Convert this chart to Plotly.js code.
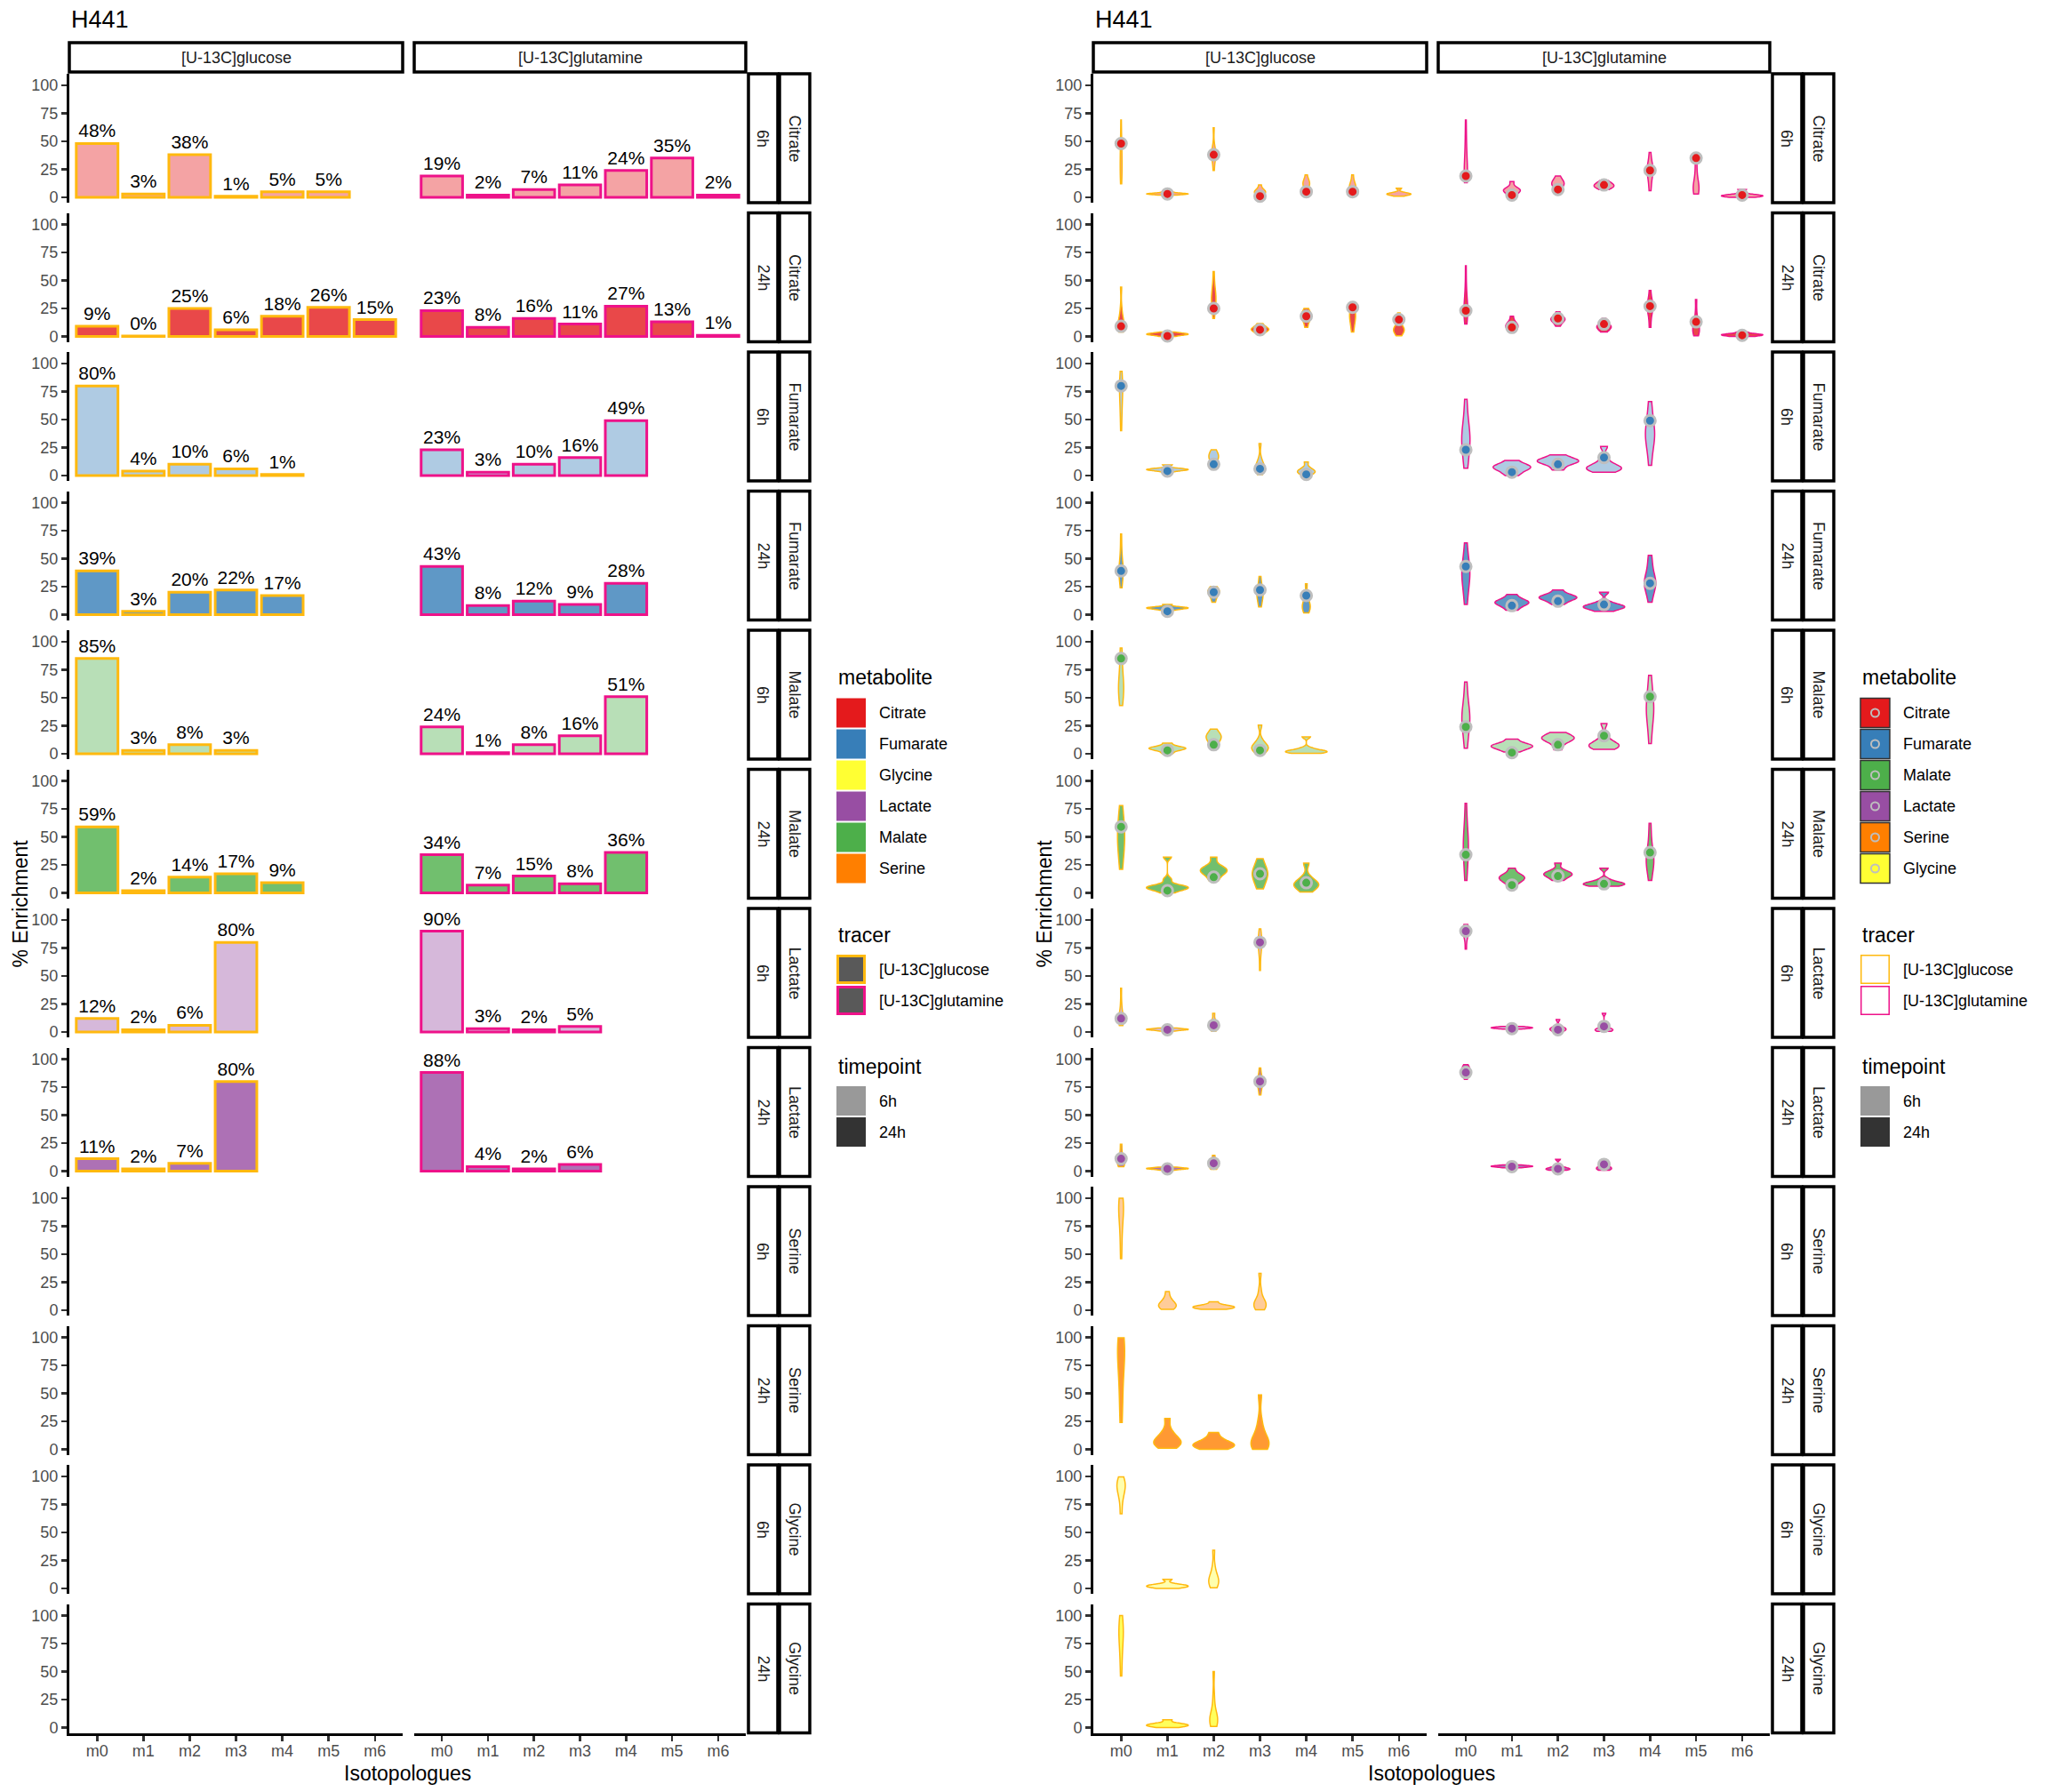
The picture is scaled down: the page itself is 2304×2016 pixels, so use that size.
<!DOCTYPE html>
<html>
<head>
<meta charset="utf-8">
<script src="https://cdn.plot.ly/plotly-3.0.1.min.js"></script>
<style>html,body{margin:0;padding:0;background:#fff}</style>
</head>
<body>
<div id="chart" style="width:2304px;height:2016px"></div>
<script>
// ---- categories ----
const isotopologues = ['m0', 'm1', 'm2', 'm3', 'm4', 'm5', 'm6'];
const metaboliteRows = ['Citrate', 'Fumarate', 'Malate', 'Lactate', 'Serine', 'Glycine'];
const timepoints = ['6h', '24h'];
const tracers = ['[U-13C]glucose', '[U-13C]glutamine'];
const legendOrderBars = ['Citrate', 'Fumarate', 'Glycine', 'Lactate', 'Malate', 'Serine'];
const legendOrderViolins = ['Citrate', 'Fumarate', 'Malate', 'Lactate', 'Serine', 'Glycine'];
const yTicks = [0, 25, 50, 75, 100];

// ---- H441 % enrichment (bars, and the dots on the violins) ----
const citrate6hGlc   = [48, 3, 38, 1, 5, 5, null];
const citrate6hGln   = [19, 2, 7, 11, 24, 35, 2];
const citrate24hGlc  = [9, 0.4, 25, 6, 18, 26, 15];
const citrate24hGln  = [23, 8, 16, 11, 27, 13, 1];
const fumarate6hGlc  = [80, 4, 10, 6, 1, null, null];
const fumarate6hGln  = [23, 3, 10, 16, 49, null, null];
const fumarate24hGlc = [39, 3, 20, 22, 17, null, null];
const fumarate24hGln = [43, 8, 12, 9, 28, null, null];
const malate6hGlc    = [85, 3, 8, 3, null, null, null];
const malate6hGln    = [24, 1, 8, 16, 51, null, null];
const malate24hGlc   = [59, 2, 14, 17, 9, null, null];
const malate24hGln   = [34, 7, 15, 8, 36, null, null];
const lactate6hGlc   = [12, 2, 6, 80, null, null, null];
const lactate6hGln   = [90, 3, 2, 5, null, null, null];
const lactate24hGlc  = [11, 2, 7, 80, null, null, null];
const lactate24hGln  = [88, 4, 2, 6, null, null, null];

// ---- samples behind the violins (all cell lines), one list per isotopologue ----
const vioCitrate6hGlc = [
  [12, 20, 24, 26, 30, 40, 47, 49, 69], [2, 2.5, 3, 3, 3, 3.5, 4, 5], [24, 32, 36, 38, 39, 41, 46, 62],
  [0.5, 2, 3.5, 4.5, 5, 6, 7, 11], [3, 6, 10, 11.5, 12.5, 13.5, 15, 20], [3, 5, 7, 9, 10, 11, 14, 20],
  [1, 2, 2.5, 3, 3, 3.5, 4.5, 8]];
const vioCitrate6hGln = [
  [13, 17, 19, 21, 24, 30, 40, 52, 69], [1, 3, 5, 6, 6.5, 7, 9, 14], [4, 8, 10.5, 12, 12.5, 13.5, 16, 19],
  [7, 8.5, 9.5, 10, 11, 12, 13, 15], [6, 14, 20, 23, 25, 27, 30, 40], [3, 5, 7, 8, 9, 11, 18, 28, 38],
  [0, 0.5, 1, 1.5, 1.5, 2, 3, 7]];
const vioCitrate24hGlc = [
  [4, 7, 8, 9.5, 11, 13, 17, 25, 44], [0, 1, 1.5, 2, 2, 2.5, 3, 4], [16, 24, 29, 32, 34, 36, 40, 46, 58],
  [1.5, 4, 5.5, 6, 6.5, 7.5, 9, 11.5], [8, 13, 16, 17.5, 18.5, 19.5, 22, 25], [4, 10, 15, 17, 19, 21, 25, 30],
  [0.5, 3, 5, 6, 7, 8, 12, 21]];
const vioCitrate24hGln = [
  [11, 17, 21, 23, 25, 28, 35, 45, 63], [4, 6, 8, 9, 10, 11, 13, 18], [9, 12, 14, 15, 15.5, 16.5, 18, 22],
  [4, 6, 7.5, 8.5, 9, 10, 12, 16], [8, 17, 23, 26, 27, 28.5, 32, 41], [0.5, 3, 5, 6, 7, 9, 13, 20, 33],
  [0, 0.5, 1, 1.5, 1.5, 2, 2.5, 4]];
const vioFumarate6hGlc = [
  [40, 52, 62, 70, 75, 79, 81, 85, 93], [3, 4.5, 5, 5, 5.5, 6, 6.5, 9.5], [6, 10, 14, 16, 17, 18, 20, 23],
  [0.8, 4, 6, 7.5, 8.5, 10, 15, 28.5], [0, 1.5, 3, 3.5, 4, 5, 7, 12]];
const vioFumarate6hGln = [
  [6.6, 15, 24, 30, 33, 36, 42, 52, 68], [0, 3, 5.5, 7, 7.5, 8.5, 10, 13.5], [5, 9, 11.5, 12.5, 13, 14, 15.5, 18.5],
  [3, 5, 6, 7, 7.5, 9, 14, 26], [9, 22, 30, 35, 37, 40, 46, 55, 66]];
const vioFumarate24hGlc = [
  [24, 32, 36, 38, 40, 43, 48, 58, 72], [4, 5, 5.5, 6, 6, 6.5, 7, 9], [11, 15, 18, 19.5, 20.5, 21.5, 23, 25],
  [7, 12, 16, 18, 20, 22, 26, 34], [1.5, 4, 6, 7.5, 9, 11, 16, 27.5]];
const vioFumarate24hGln = [
  [9, 20, 28, 33, 37, 40, 44, 52, 64], [4, 7, 9.5, 10.5, 11, 12, 14, 18], [9, 12, 14, 15, 15.5, 16.5, 18, 22],
  [3, 5, 6.5, 7, 7.5, 8.5, 11, 20], [11, 20, 25, 27, 29, 31, 36, 44, 53]];
const vioMalate6hGlc = [
  [43, 50, 55, 58, 61, 65, 72, 84, 94.5], [0, 2.5, 4, 4.5, 5, 5.5, 6.5, 9.5], [4, 8, 12, 14, 15, 16, 18, 22],
  [0, 2.5, 4.5, 5.5, 6.5, 8, 12, 25.5], [0.3, 1, 1.5, 2, 2.5, 3, 5, 15]];
const vioMalate6hGln = [
  [5, 15, 24, 29, 32, 35, 40, 50, 64], [1.5, 4, 5.5, 6.5, 7, 8, 9.5, 13], [3.5, 9, 12, 13, 14, 15, 16.5, 19],
  [4, 5.5, 7, 7.5, 8.5, 10, 15, 27], [9, 22, 32, 37, 40, 43, 50, 58, 70]];
const vioMalate24hGlc = [
  [21, 32, 40, 45, 50, 55, 60, 68, 78], [0, 2.5, 4, 4.5, 5, 5.5, 6.5, 12, 32], [10.5, 15, 18, 19.5, 20.5, 21.5, 24, 32],
  [3.5, 9, 13, 16, 18, 20, 24, 30.5], [0.8, 4, 6, 7.5, 8.5, 10, 14, 26.5]];
const vioMalate24hGln = [
  [11, 22, 32, 38, 42, 46, 52, 62, 80], [7.5, 10, 12, 13, 14, 15, 17, 22], [11, 13.5, 15.5, 16.5, 17, 18, 20, 26.5],
  [6, 7, 7.5, 8, 8.5, 9.5, 12, 22], [11, 19, 25, 28, 30, 33, 38, 48, 62]];
const vioLactate6hGlc = [
  [5.7, 8, 10, 11, 12, 14, 18, 26, 39], [0.8, 1.5, 2, 2, 2.5, 2.5, 3, 3.5], [0.8, 3, 4.5, 5.5, 6.5, 7.5, 10, 16.6],
  [55, 68, 75, 78, 80, 82, 85, 92]];
const vioLactate6hGln = [
  [74, 82, 86, 88, 90, 91, 92, 94, 96], [2.5, 3, 3.5, 3.5, 4, 4, 4.5, 5], [0, 1, 2, 2.5, 3, 3.5, 5, 11],
  [0.5, 1, 1.5, 2, 2.5, 3, 5, 16.6]];
const vioLactate24hGlc = [
  [4, 5.5, 6.5, 7, 8, 9.5, 12, 17, 24], [0.8, 1.5, 2, 2, 2.5, 2.5, 3, 3.5], [1.5, 3, 4.5, 5.5, 6.5, 7.5, 9, 14],
  [68, 74, 77, 79, 80, 82, 85, 92]];
const vioLactate24hGln = [
  [82, 85, 87, 88, 89.5, 91, 92, 93, 95], [3, 3.5, 4, 4, 4.5, 4.5, 5, 5.5], [0.8, 1.2, 1.6, 2, 2.3, 2.8, 4, 10.5],
  [0.8, 1.5, 2, 2.5, 3, 4, 6, 9.4]];
const vioSerine6hGlc = [
  [46, 60, 72, 80, 86, 90, 93, 95, 97, 100], [0.8, 2, 3, 4, 5, 6, 8, 11, 16.6], [0.8, 1.5, 2, 2.5, 3, 3.5, 4, 5, 7.6],
  [0.3, 2, 3.5, 5, 6, 7.5, 10, 18, 33]];
const vioSerine24hGlc = [
  [24, 40, 55, 68, 78, 85, 90, 94, 97, 99.6], [1, 3, 5, 6, 7.5, 9, 12, 17, 27.6], [0, 1, 2.5, 3.5, 4.5, 5.5, 7, 10, 15],
  [0, 2, 3.5, 5, 6.5, 9, 15, 25, 48.6]];
const vioGlycine6hGlc = [
  [66.6, 78, 84, 88, 90, 92, 94, 96, 99.5], [0, 1, 1.5, 2, 2.5, 3, 4, 8], [0.5, 3, 5, 6.5, 8, 9.5, 13, 20, 34]];
const vioGlycine24hGlc = [
  [46, 60, 70, 78, 83, 86, 89, 93, 100], [0, 1, 1.5, 2, 2.5, 3, 4, 7], [1, 3, 5, 7, 8, 10, 15, 28, 50]];

// lookup tables built from the arrays above: [metabolite][timepoint] -> [glucose, glutamine]
const barTable = {
  Citrate:  {'6h': [citrate6hGlc, citrate6hGln],   '24h': [citrate24hGlc, citrate24hGln]},
  Fumarate: {'6h': [fumarate6hGlc, fumarate6hGln], '24h': [fumarate24hGlc, fumarate24hGln]},
  Malate:   {'6h': [malate6hGlc, malate6hGln],     '24h': [malate24hGlc, malate24hGln]},
  Lactate:  {'6h': [lactate6hGlc, lactate6hGln],   '24h': [lactate24hGlc, lactate24hGln]}
};
const violinTable = {
  Citrate:  {'6h': [vioCitrate6hGlc, vioCitrate6hGln],   '24h': [vioCitrate24hGlc, vioCitrate24hGln]},
  Fumarate: {'6h': [vioFumarate6hGlc, vioFumarate6hGln], '24h': [vioFumarate24hGlc, vioFumarate24hGln]},
  Malate:   {'6h': [vioMalate6hGlc, vioMalate6hGln],     '24h': [vioMalate24hGlc, vioMalate24hGln]},
  Lactate:  {'6h': [vioLactate6hGlc, vioLactate6hGln],   '24h': [vioLactate24hGlc, vioLactate24hGln]},
  Serine:   {'6h': [vioSerine6hGlc, null],               '24h': [vioSerine24hGlc, null]},
  Glycine:  {'6h': [vioGlycine6hGlc, null],              '24h': [vioGlycine24hGlc, null]}
};

// ---- styles ----
const metaboliteColors = {Citrate: '#E41A1C', Fumarate: '#377EB8', Glycine: '#FFFF33',
                          Lactate: '#984EA3', Malate: '#4DAF4A', Serine: '#FF7F00'};
const timepointAlpha = {'6h': 0.4, '24h': 0.8};
const tracerColors = ['#FFB90F', '#EE1289'];
const FONT = 'Liberation Sans, Arial, Helvetica, sans-serif';

function rgba(hex, a) {
  const n = parseInt(hex.slice(1), 16);
  return 'rgba(' + (n >> 16) + ',' + ((n >> 8) & 255) + ',' + (n & 255) + ',' + a + ')';
}

// ---- page geometry (pixels) ----
const W = 2304, H = 2016;
const FIG_W = 1152;
const PANEL_TOP = 83, ROW_STEP = 156.5, PANEL_H = 145;
const COLS = [[78, 453], [466, 839]];
const px = v => v / W;
const py = v => 1 - v / H;
const ref = (letter, id) => id === 1 ? letter : letter + id;
const axKey = (letter, id) => id === 1 ? letter + 'axis' : letter + 'axis' + id;

const rows = [];
metaboliteRows.forEach(m => timepoints.forEach(t => rows.push({met: m, tp: t})));

const layout = {
  width: W, height: H,
  margin: {l: 0, r: 0, t: 0, b: 0},
  paper_bgcolor: 'white', plot_bgcolor: 'rgba(0,0,0,0)',
  showlegend: false,
  font: {family: FONT, color: 'black'},
  barmode: 'overlay',
  violinmode: 'overlay', violingap: 0.1, violingroupgap: 0,
  shapes: [], annotations: []
};

function rect(x0, y0, x1, y1, fill, lineColor, lw) {
  layout.shapes.push({type: 'rect', xref: 'paper', yref: 'paper',
    x0: px(x0), x1: px(x1), y0: py(y1), y1: py(y0),
    fillcolor: fill, line: {color: lineColor || 'rgba(0,0,0,0)', width: lw || 0}, layer: 'above'});
}
function circle(cx, cy, r, fill, lineColor, lw) {
  layout.shapes.push({type: 'circle', xref: 'paper', yref: 'paper',
    x0: px(cx - r), x1: px(cx + r), y0: py(cy + r), y1: py(cy - r),
    fillcolor: fill, line: {color: lineColor, width: lw}, layer: 'above'});
}
function text(x, y, s, size, opts) {
  opts = opts || {};
  layout.annotations.push({xref: 'paper', yref: 'paper', x: px(x), y: py(y), text: s,
    showarrow: false, xanchor: opts.xanchor || 'center', yanchor: 'middle',
    textangle: opts.angle || 0, font: {size: size, color: opts.color || 'black', family: FONT}});
}

const traces = [];

[0, 1].forEach(f => {
  const ox = f * FIG_W;

  // x axes: one per tracer column, drawn under the bottom row
  COLS.forEach((c, ci) => {
    layout[axKey('x', f * 2 + ci + 1)] = {
      domain: [px(c[0] + ox), px(c[1] + ox)], anchor: ref('y', f * 12 + 12),
      type: 'category', categoryorder: 'array', categoryarray: isotopologues, tickvals: isotopologues,
      range: [-0.6, 6.6], showline: true, linecolor: 'black', linewidth: 3,
      ticks: 'outside', ticklen: 6, tickwidth: 2.5, tickcolor: '#333333', ticklabelstandoff: -4,
      tickfont: {size: 18, color: '#4D4D4D'}, showgrid: false, zeroline: false, fixedrange: true
    };
  });

  rows.forEach((row, r) => {
    const top = PANEL_TOP + ROW_STEP * r;
    const yid = f * 12 + r + 1;
    layout[axKey('y', yid)] = {
      domain: [py(top + PANEL_H), py(top)], anchor: ref('x', f * 2 + 1),
      type: 'linear', range: [-4.8, 110.3], tickvals: yTicks,
      showline: true, linecolor: 'black', linewidth: 3,
      ticks: 'outside', ticklen: 6, tickwidth: 2.5, tickcolor: '#333333',
      tickfont: {size: 18, color: '#4D4D4D'}, showgrid: false, zeroline: false, fixedrange: true
    };

    const base = metaboliteColors[row.met];
    const fill = rgba(base, timepointAlpha[row.tp]);

    [0, 1].forEach(ti => {
      const xref = ref('x', f * 2 + ti + 1), yref = ref('y', yid);
      const bars = barTable[row.met] ? barTable[row.met][row.tp][ti] : null;
      let drawn = false;
      if (f === 0) {
        if (bars) {
          traces.push({type: 'bar', x: isotopologues, y: bars, xaxis: xref, yaxis: yref,
            width: 0.9, marker: {color: fill, line: {color: tracerColors[ti], width: 3}},
            texttemplate: '%{y:.0f}%', textposition: 'outside', constraintext: 'none',
            textfont: {size: 21, color: 'black', family: FONT}, cliponaxis: false, hoverinfo: 'skip'});
          drawn = true;
        }
      } else {
        const samples = violinTable[row.met][row.tp][ti];
        if (samples) {
          const xs = [], ys = [];
          samples.forEach((list, k) => list.forEach(v => { xs.push(isotopologues[k]); ys.push(v); }));
          traces.push({type: 'violin', x: xs, y: ys, xaxis: xref, yaxis: yref,
            fillcolor: fill, line: {color: tracerColors[ti], width: 1.5},
            points: false, spanmode: 'hard', scalemode: 'width', scalegroup: 'g' + r + '_' + ti,
            box: {visible: false}, meanline: {visible: false}, hoverinfo: 'skip'});
          drawn = true;
        }
        if (bars) {
          traces.push({type: 'scatter', mode: 'markers', x: isotopologues, y: bars, xaxis: xref, yaxis: yref,
            marker: {size: 12, color: base, line: {color: '#BEBEBE', width: 3}},
            cliponaxis: false, hoverinfo: 'skip'});
          drawn = true;
        }
      }
      // empty facet: register the subplot so its axes are laid out like the others
      if (!drawn) {
        traces.push({type: 'scatter', mode: 'markers', x: [], y: [], xaxis: xref, yaxis: yref, hoverinfo: 'skip'});
      }
    });

    // facet strips on the right: timepoint, then metabolite
    rect(842 + ox, top, 875 + ox, top + PANEL_H, 'white', 'black', 3.5);
    rect(877 + ox, top, 911 + ox, top + PANEL_H, 'white', 'black', 3.5);
    text(858.5 + ox, top + PANEL_H / 2, row.tp, 18, {angle: 90, color: '#1A1A1A'});
    text(894 + ox, top + PANEL_H / 2, row.met, 18, {angle: 90, color: '#1A1A1A'});
  });

  // tracer strips on top
  COLS.forEach((c, ci) => {
    rect(c[0] + ox, 48, c[1] + ox, 81, 'white', 'black', 3.5);
    text((c[0] + c[1]) / 2 + ox, 64.5, tracers[ci], 18, {color: '#1A1A1A'});
  });

  text(78 + ox, 22, 'H441', 27, {xanchor: 'left'});
  text(22 + ox, (PANEL_TOP + 1950) / 2, '% Enrichment', 23, {angle: -90});
  text((78 + 839) / 2 + ox, 1995, 'Isotopologues', 23);

  // legends
  const kx = 941 + ox, lx = 987 + ox;
  const order = f === 0 ? legendOrderBars : legendOrderViolins;
  text(kx, 762, 'metabolite', 23, {xanchor: 'left'});
  order.forEach((m, i) => {
    const y0 = 785.5 + 35 * i;
    if (f === 0) {
      rect(kx, y0, kx + 33, y0 + 33, metaboliteColors[m]);
    } else {
      rect(kx, y0, kx + 33, y0 + 33, metaboliteColors[m], '#333333', 1.5);
      circle(kx + 16.5, y0 + 16.5, 4.5, metaboliteColors[m], '#BEBEBE', 2);
    }
    text(lx, y0 + 16.5, m, 18, {xanchor: 'left'});
  });
  text(kx, 1052, 'tracer', 23, {xanchor: 'left'});
  tracers.forEach((t, i) => {
    const y0 = 1074 + 35 * i;
    if (f === 0) rect(kx + 1.5, y0 + 1.5, kx + 31.5, y0 + 31.5, '#595959', tracerColors[i], 3);
    else rect(kx + 0.75, y0 + 0.75, kx + 32.25, y0 + 32.25, 'white', tracerColors[i], 1.5);
    text(lx, y0 + 16.5, t, 18, {xanchor: 'left'});
  });
  text(kx, 1200, 'timepoint', 23, {xanchor: 'left'});
  timepoints.forEach((t, i) => {
    const y0 = 1222 + 35 * i;
    rect(kx, y0, kx + 33, y0 + 33, rgba('#000000', timepointAlpha[t]));
    text(lx, y0 + 16.5, t, 18, {xanchor: 'left'});
  });
});

Plotly.newPlot('chart', traces, layout, {staticPlot: true, displayModeBar: false});
</script>
</body>
</html>
